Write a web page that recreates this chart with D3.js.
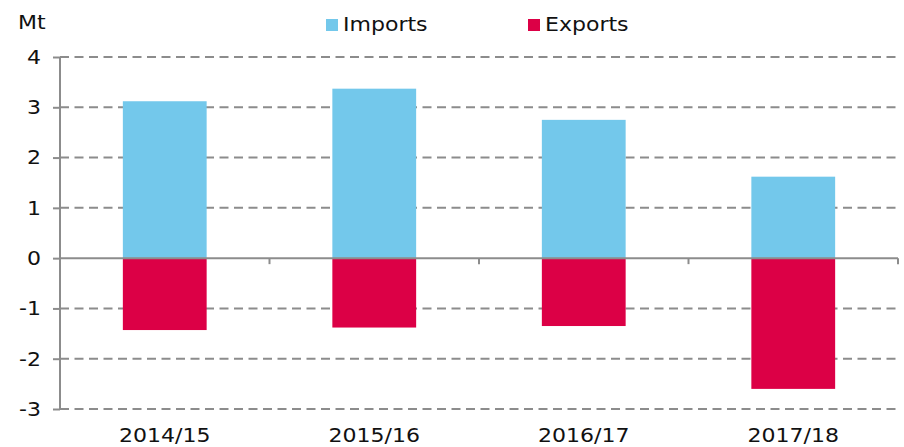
<!DOCTYPE html>
<html>
<head>
<meta charset="utf-8">
<script src="https://cdn.jsdelivr.net/npm/d3@7"></script>
<style>
  body { margin: 0; background: #fff; }
  text { font-family: "DejaVu Sans", Verdana, sans-serif; fill: #111; font-size: 19px; }
</style>
</head>
<body>
<script>
// chart values
const years = ["2014/15", "2015/16", "2016/17", "2017/18"];
const imports = [3.12, 3.37, 2.75, 1.62];
const exportsData = [-1.43, -1.38, -1.35, -2.60];
const yTicks = [-3, -2, -1, 0, 1, 2, 3, 4];
const seriesNames = ["Imports", "Exports"];
const seriesColors = ["#73c8eb", "#dc0046"];

const w = 904, h = 447;
const plotLeft = 60, plotRight = 898, plotTop = 57, plotBottom = 409;
const stretch = 1.16; // the source font looks wider than DejaVu, so stretch text a bit

const svg = d3.select("body").append("svg")
    .attr("width", w)
    .attr("height", h);

const x = d3.scaleBand()
    .domain(years)
    .range([plotLeft, plotRight]);

const y = d3.scaleLinear()
    .domain([-3, 4])
    .range([plotBottom, plotTop]);

// put a text at (tx, ty) and stretch it horizontally around that point
function label(g, tx, ty, anchor, str) {
    return g.append("text")
        .attr("transform", `translate(${tx},${ty}) scale(${stretch},1)`)
        .attr("text-anchor", anchor)
        .text(str);
}

// dashed gridlines (not on zero)
svg.append("g").selectAll("line")
    .data(yTicks.filter(d => d !== 0))
    .enter().append("line")
    .attr("x1", plotLeft).attr("x2", plotRight)
    .attr("y1", d => y(d)).attr("y2", d => y(d))
    .attr("stroke", "#8c8c8c")
    .attr("stroke-width", 2)
    .attr("stroke-dasharray", "9,5.5");

// bars
const barW = x.bandwidth() * 0.4;
svg.append("g").selectAll("rect")
    .data(imports)
    .enter().append("rect")
    .attr("x", (d, i) => x(years[i]) + (x.bandwidth() - barW) / 2)
    .attr("y", d => y(d))
    .attr("width", barW)
    .attr("height", d => y(0) - y(d))
    .attr("fill", seriesColors[0]);

svg.append("g").selectAll("rect")
    .data(exportsData)
    .enter().append("rect")
    .attr("x", (d, i) => x(years[i]) + (x.bandwidth() - barW) / 2)
    .attr("y", y(0))
    .attr("width", barW)
    .attr("height", d => y(d) - y(0))
    .attr("fill", seriesColors[1]);

// y axis line + ticks (labels drawn separately)
const yAxis = svg.append("g")
    .attr("transform", `translate(${plotLeft},0)`)
    .call(d3.axisLeft(y).tickValues(yTicks).tickSize(7).tickFormat(""));
yAxis.select(".domain").attr("stroke", "#8c8c8c").attr("stroke-width", 2)
    .attr("d", `M0,${plotTop}V${plotBottom}`);
yAxis.selectAll(".tick line").attr("stroke", "#8c8c8c").attr("stroke-width", 2);

const yLab = svg.append("g");
yTicks.forEach(t => {
    label(yLab, 41, y(t), "end", String(t)).attr("dy", "0.36em"); // plain hyphen like the source
});

// x axis at zero
const xAxis = svg.append("g")
    .attr("transform", `translate(0,${y(0)})`)
    .call(d3.axisBottom(x).tickSize(0).tickFormat(""));
xAxis.select(".domain").attr("stroke", "#8c8c8c").attr("stroke-width", 2)
    .attr("d", `M${plotLeft},0H${plotRight}`);
xAxis.selectAll(".tick").remove();

// category boundary ticks
svg.append("g").selectAll("line")
    .data(years.slice(1).concat(["end"]))
    .enter().append("line")
    .attr("x1", d => d === "end" ? plotRight : x(d))
    .attr("x2", d => d === "end" ? plotRight : x(d))
    .attr("y1", y(0)).attr("y2", y(0) + 6)
    .attr("stroke", "#8c8c8c")
    .attr("stroke-width", 2);

// category labels at the bottom
const xLab = svg.append("g");
years.forEach(d => label(xLab, x(d) + x.bandwidth() / 2, 442, "middle", d));

// unit label
label(svg, 18, 29, "start", "Mt");

// legend
const legendX = [326, 528];
seriesNames.forEach((name, i) => {
    svg.append("rect")
        .attr("x", legendX[i]).attr("y", 19)
        .attr("width", 12).attr("height", 12)
        .attr("fill", seriesColors[i]);
    label(svg, legendX[i] + 17, 31, "start", name);
});
</script>
</body>
</html>
